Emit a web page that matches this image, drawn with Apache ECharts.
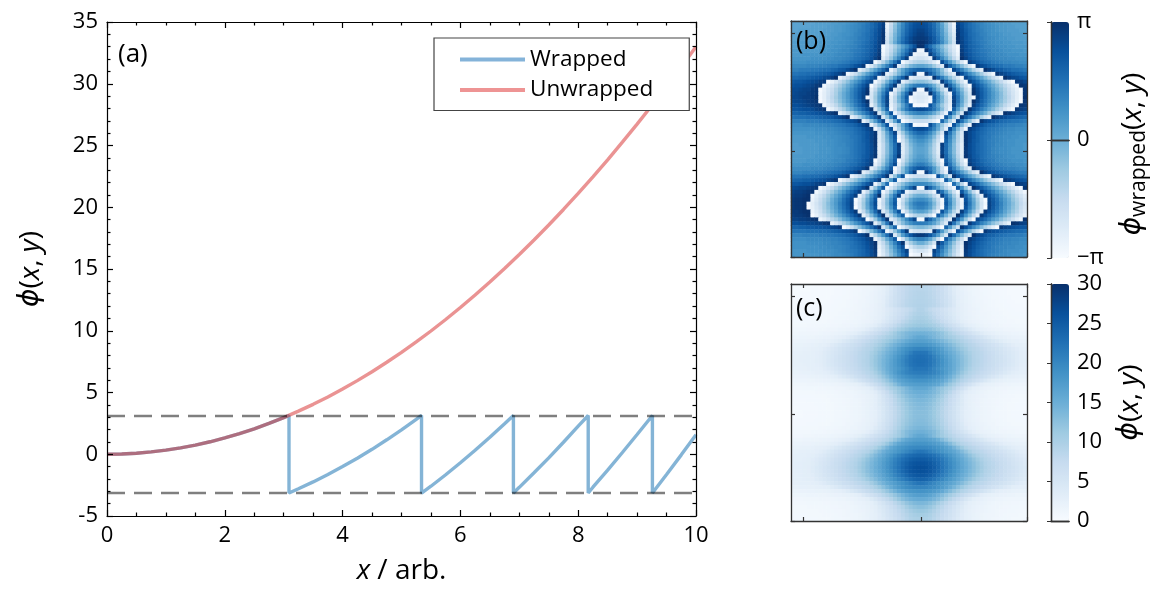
<!DOCTYPE html>
<html><head><meta charset="utf-8">
<script src="https://cdn.jsdelivr.net/npm/echarts@6/dist/echarts.min.js"></script>
<style>html,body{margin:0;padding:0;background:#fff}#c{width:1154px;height:590px}</style>
</head><body><div id="c"></div>
<script>
const FONT = 'Open Sans';
// ---- panel (a): 1D profile ----
const unwrappedX = [0,0.25,0.5,0.75,1,1.25,1.5,1.75,2,2.25,2.5,2.75,3,3.25,3.5,3.75,4,4.25,4.5,4.75,5,5.25,5.5,5.75,6,6.25,6.5,6.75,7,7.25,7.5,7.75,8,8.25,8.5,8.75,9,9.25,9.5,9.75,10];
const unwrappedY = [0,0.02,0.08,0.19,0.33,0.52,0.74,1.01,1.32,1.67,2.06,2.5,2.97,3.49,4.04,4.64,5.28,5.96,6.68,7.45,8.25,9.1,9.98,10.91,11.88,12.89,13.94,15.04,16.17,17.35,18.56,19.82,21.12,22.46,23.84,25.27,26.73,28.24,29.78,31.37,33.0];
const wrappedX = [0,0.25,0.5,0.75,1,1.25,1.5,1.75,2,2.25,2.5,2.75,3,3.09,3.09,3.25,3.5,3.75,4,4.25,4.5,4.75,5,5.25,5.34,5.34,5.5,5.75,6,6.25,6.5,6.75,6.9,6.9,7,7.25,7.5,7.75,8,8.17,8.17,8.25,8.5,8.75,9,9.26,9.26,9.5,9.75,10];
const wrappedY = [0,0.02,0.08,0.19,0.33,0.52,0.74,1.01,1.32,1.67,2.06,2.5,2.97,3.14,-3.14,-2.79,-2.24,-1.64,-1.0,-0.32,0.4,1.17,1.97,2.82,3.14,-3.14,-2.59,-1.66,-0.69,0.32,1.37,2.47,3.14,-3.14,-2.68,-1.5,-0.29,0.97,2.27,3.14,-3.14,-2.67,-1.29,0.14,1.6,3.14,-3.14,-1.64,-0.05,1.58];
const dashedLevels = [3.14, -3.14];
const seriesNames = ['Wrapped', 'Unwrapped'];

// ---- panels (b), (c): 60 x 60 cell maps, x and y from -1.1 to 0.9 ----
// Both maps are mirror-symmetric about x = 0, so each row is read at |x| = halfX and used on both sides.
const gridX60 = [-1.083,-1.05,-1.017,-0.983,-0.95,-0.917,-0.883,-0.85,-0.817,-0.783,-0.75,-0.717,-0.683,-0.65,-0.617,-0.583,-0.55,-0.517,-0.483,-0.45,-0.417,-0.383,-0.35,-0.317,-0.283,-0.25,-0.217,-0.183,-0.15,-0.117,-0.083,-0.05,-0.017,0.017,0.05,0.083,0.117,0.15,0.183,0.217,0.25,0.283,0.317,0.35,0.383,0.417,0.45,0.483,0.517,0.55,0.583,0.617,0.65,0.683,0.717,0.75,0.783,0.817,0.85,0.883];
const gridY60 = [-1.083,-1.05,-1.017,-0.983,-0.95,-0.917,-0.883,-0.85,-0.817,-0.783,-0.75,-0.717,-0.683,-0.65,-0.617,-0.583,-0.55,-0.517,-0.483,-0.45,-0.417,-0.383,-0.35,-0.317,-0.283,-0.25,-0.217,-0.183,-0.15,-0.117,-0.083,-0.05,-0.017,0.017,0.05,0.083,0.117,0.15,0.183,0.217,0.25,0.283,0.317,0.35,0.383,0.417,0.45,0.483,0.517,0.55,0.583,0.617,0.65,0.683,0.717,0.75,0.783,0.817,0.85,0.883];
const halfX = [0.017,0.05,0.083,0.117,0.15,0.183,0.217,0.25,0.283,0.317,0.35,0.383,0.417,0.45,0.483,0.517,0.55,0.583,0.617,0.65,0.683,0.717,0.75,0.783,0.817,0.85,0.883,0.917,0.95,0.983,1.017,1.05,1.083];
const mapTickCoords = [-1, 0];

// panel (b): wrapped phase
const wrappedHalfRows = [
[2.4,2.3,2.0,1.6,1.0,0.2,-0.7,-1.7,-2.9,2.7,2.3,2.0,1.7,1.4,1.2,1.1,0.9,0.8,0.7,0.6,0.6,0.5,0.5,0.4,0.4,0.4,0.4,0.3,0.3,0.3,0.3,0.3,0.3],
[2.5,2.4,2.1,1.7,1.1,0.4,-0.5,-1.5,-2.7,2.8,2.4,2.0,1.7,1.5,1.3,1.1,1.0,0.9,0.8,0.7,0.6,0.6,0.5,0.5,0.4,0.4,0.4,0.4,0.3,0.3,0.3,0.3,0.3],
[2.7,2.5,2.2,1.8,1.2,0.5,-0.4,-1.4,-2.5,2.9,2.5,2.1,1.8,1.5,1.3,1.2,1.0,0.9,0.8,0.7,0.6,0.6,0.5,0.5,0.5,0.4,0.4,0.4,0.4,0.4,0.4,0.3,0.3],
[2.8,2.6,2.3,1.9,1.3,0.6,-0.2,-1.2,-2.3,3.0,2.5,2.2,1.8,1.6,1.4,1.2,1.1,0.9,0.8,0.8,0.7,0.6,0.6,0.5,0.5,0.5,0.4,0.4,0.4,0.4,0.4,0.4,0.4],
[2.9,2.8,2.5,2.1,1.5,0.8,-0.1,-1.0,-2.1,3.0,2.6,2.2,1.9,1.6,1.4,1.3,1.1,1.0,0.9,0.8,0.7,0.7,0.6,0.6,0.5,0.5,0.5,0.5,0.5,0.4,0.4,0.4,0.4],
[3.1,2.9,2.6,2.2,1.7,1.0,0.1,-0.8,-1.9,3.1,2.7,2.3,2.0,1.7,1.5,1.3,1.2,1.0,0.9,0.8,0.8,0.7,0.7,0.6,0.6,0.6,0.5,0.5,0.5,0.5,0.5,0.5,0.5],
[3.1,2.4,1.7,1.0,0.4,-0.3,-1.0,-1.7,-2.4,-3.1,2.7,2.4,2.0,1.8,1.6,1.4,1.2,1.1,1.0,0.9,0.8,0.8,0.7,0.7,0.6,0.6,0.6,0.6,0.5,0.5,0.5,0.5,0.5],
[-2.9,3.0,2.3,1.5,0.8,0.0,-0.7,-1.5,-2.2,-3.0,2.8,2.4,2.1,1.8,1.6,1.4,1.3,1.2,1.0,1.0,0.9,0.8,0.8,0.7,0.7,0.7,0.6,0.6,0.6,0.6,0.6,0.6,0.6],
[-2.5,-2.8,2.8,2.0,1.2,0.4,-0.4,-1.2,-2.0,-2.8,2.9,2.5,2.2,1.9,1.7,1.5,1.4,1.2,1.1,1.0,1.0,0.9,0.8,0.8,0.8,0.7,0.7,0.7,0.7,0.7,0.6,0.6,0.6],
[-1.9,-2.2,-2.7,2.8,2.0,1.1,0.2,-0.7,-1.5,-2.4,3.1,2.7,2.3,2.0,1.8,1.6,1.5,1.3,1.2,1.1,1.0,1.0,0.9,0.9,0.8,0.8,0.8,0.8,0.7,0.7,0.7,0.7,0.7],
[-1.1,-1.3,-1.7,-2.3,-3.0,2.4,1.5,0.6,-0.3,-1.2,-2.1,-3.0,2.8,2.5,2.2,1.9,1.7,1.6,1.4,1.3,1.2,1.1,1.1,1.0,1.0,0.9,0.9,0.9,0.9,0.8,0.8,0.8,0.8],
[0.3,0.1,-0.2,-0.8,-1.5,-2.4,2.9,2.0,1.2,0.4,-0.4,-1.2,-2.1,-2.9,2.9,2.5,2.3,2.0,1.8,1.7,1.6,1.4,1.4,1.3,1.2,1.2,1.1,1.1,1.1,1.0,1.0,1.0,1.0],
[2.0,1.8,1.5,1.0,0.3,-0.5,-1.6,-2.8,2.6,1.9,1.2,0.4,-0.3,-1.1,-1.8,-2.5,3.1,2.8,2.5,2.2,2.1,1.9,1.8,1.6,1.6,1.5,1.4,1.4,1.3,1.3,1.3,1.2,1.2],
[-2.9,2.9,2.1,1.4,0.6,-0.2,-1.0,-1.8,-2.5,3.0,2.4,1.7,1.0,0.4,-0.3,-0.9,-1.6,-2.2,-2.9,3.0,2.7,2.5,2.3,2.1,2.0,1.9,1.8,1.7,1.7,1.6,1.6,1.5,1.5],
[-1.9,-2.1,-2.6,3.0,2.1,1.3,0.4,-0.5,-1.3,-2.2,-3.0,2.6,2.0,1.5,0.9,0.3,-0.3,-0.9,-1.5,-2.1,-2.7,3.1,2.8,2.6,2.5,2.3,2.2,2.1,2.0,1.9,1.9,1.8,1.8],
[-0.5,-0.7,-1.1,-1.7,-2.5,2.8,1.8,0.9,-0.1,-1.1,-2.0,-2.9,2.7,2.2,1.7,1.1,0.6,0.1,-0.5,-1.0,-1.5,-2.1,-2.6,-3.1,2.9,2.8,2.6,2.5,2.4,2.3,2.2,2.2,2.1],
[1.4,1.2,0.7,0.0,-0.9,-2.0,2.9,2.0,1.0,-0.1,-1.1,-2.0,-3.1,2.7,2.2,1.7,1.2,0.6,0.1,-0.4,-0.9,-1.4,-1.9,-2.4,-2.9,3.0,2.9,2.7,2.6,2.5,2.4,2.4,2.3],
[-3.0,3.0,1.9,0.8,-0.3,-1.3,-2.4,2.8,1.8,0.7,-0.3,-1.4,-2.4,3.0,2.5,2.0,1.5,1.0,0.4,-0.1,-0.6,-1.1,-1.6,-2.1,-2.6,-3.1,3.0,2.9,2.7,2.7,2.6,2.5,2.5],
[-2.4,-2.7,3.0,1.8,0.7,-0.5,-1.7,-2.9,2.3,1.2,0.1,-1.0,-2.1,3.1,2.6,2.1,1.6,1.1,0.6,0.1,-0.4,-1.0,-1.5,-2.0,-2.5,-3.0,3.0,2.9,2.8,2.7,2.7,2.6,2.5],
[-2.2,-2.4,-3.0,2.2,1.0,-0.1,-1.3,-2.5,2.6,1.5,0.3,-0.8,-2.0,-3.1,2.7,2.1,1.6,1.1,0.6,0.1,-0.4,-0.9,-1.4,-1.9,-2.5,-3.0,3.1,2.9,2.8,2.8,2.7,2.6,2.6],
[-2.3,-2.6,-3.1,2.0,0.9,-0.2,-1.3,-2.4,2.7,1.5,0.3,-0.9,-2.1,3.1,2.6,2.0,1.5,1.0,0.5,0.0,-0.5,-1.0,-1.5,-2.0,-2.6,-3.1,3.0,2.9,2.8,2.7,2.6,2.6,2.5],
[-3.0,-3.1,2.3,1.3,0.3,-0.7,-1.6,-2.6,2.6,1.2,0.0,-1.3,-2.6,2.8,2.3,1.8,1.3,0.7,0.2,-0.3,-0.8,-1.4,-1.9,-2.4,-2.9,3.0,2.9,2.8,2.7,2.6,2.5,2.4,2.4],
[2.5,2.3,2.0,1.4,0.6,-0.4,-1.6,-2.9,2.0,0.6,-0.8,-2.2,3.0,2.4,1.9,1.3,0.8,0.2,-0.3,-0.9,-1.4,-2.0,-2.5,-3.0,3.0,2.8,2.7,2.5,2.4,2.4,2.3,2.2,2.2],
[1.2,1.0,0.7,0.1,-0.6,-1.5,-2.7,2.3,0.8,-0.6,-2.1,3.0,2.4,1.7,1.1,0.5,-0.1,-0.8,-1.4,-2.0,-2.6,3.1,2.9,2.7,2.5,2.4,2.3,2.2,2.1,2.0,2.0,1.9,1.9],
[-0.3,-0.4,-0.8,-1.3,-2.0,-2.8,2.2,0.8,-0.7,-2.1,2.9,2.1,1.4,0.6,-0.2,-1.0,-1.8,-2.5,3.1,2.8,2.6,2.4,2.2,2.1,2.0,1.9,1.8,1.7,1.7,1.6,1.6,1.6,1.5],
[-1.6,-1.7,-2.0,-2.5,-3.1,1.8,0.3,-1.1,-2.4,2.6,1.6,0.5,-0.5,-1.6,-2.6,3.0,2.6,2.4,2.2,2.0,1.8,1.7,1.6,1.5,1.5,1.4,1.3,1.3,1.3,1.2,1.2,1.2,1.2],
[-2.9,-3.1,2.4,1.4,0.3,-0.7,-1.8,-2.8,2.3,1.0,-0.2,-1.4,-2.7,2.9,2.6,2.3,2.0,1.8,1.7,1.5,1.4,1.3,1.2,1.2,1.1,1.1,1.0,1.0,1.0,1.0,0.9,0.9,0.9],
[2.5,2.3,1.8,1.1,0.1,-1.1,-2.5,2.4,1.1,-0.3,-1.6,-2.9,2.8,2.5,2.2,1.9,1.7,1.5,1.4,1.3,1.2,1.1,1.0,1.0,0.9,0.9,0.9,0.8,0.8,0.8,0.8,0.8,0.8],
[1.8,1.5,1.0,0.2,-0.8,-2.1,2.7,1.5,0.3,-1.0,-2.2,3.0,2.6,2.3,2.0,1.8,1.6,1.4,1.3,1.2,1.1,1.0,0.9,0.9,0.8,0.8,0.8,0.7,0.7,0.7,0.7,0.7,0.7],
[1.2,0.9,0.4,-0.4,-1.5,-2.8,2.2,1.1,0.0,-1.2,-2.3,3.0,2.6,2.3,2.0,1.7,1.5,1.4,1.2,1.1,1.0,0.9,0.9,0.8,0.8,0.7,0.7,0.7,0.7,0.6,0.6,0.6,0.6],
[0.8,0.5,0.0,-0.9,-1.9,-3.1,2.0,0.9,-0.2,-1.3,-2.3,3.0,2.6,2.2,2.0,1.7,1.5,1.3,1.2,1.1,1.0,0.9,0.8,0.8,0.7,0.7,0.7,0.6,0.6,0.6,0.6,0.6,0.6],
[0.5,0.2,-0.3,-1.2,-2.3,2.8,1.7,0.7,-0.4,-1.5,-2.5,3.0,2.5,2.2,1.9,1.7,1.5,1.3,1.2,1.0,1.0,0.9,0.8,0.8,0.7,0.7,0.6,0.6,0.6,0.6,0.6,0.5,0.5],
[0.3,0.1,-0.5,-1.3,-2.4,2.7,1.7,0.6,-0.4,-1.5,-2.5,2.9,2.5,2.2,1.9,1.7,1.5,1.3,1.1,1.0,0.9,0.9,0.8,0.7,0.7,0.7,0.6,0.6,0.6,0.6,0.5,0.5,0.5],
[0.3,0.1,-0.5,-1.3,-2.4,2.7,1.7,0.6,-0.4,-1.5,-2.5,2.9,2.5,2.2,1.9,1.7,1.5,1.3,1.1,1.0,0.9,0.9,0.8,0.7,0.7,0.7,0.6,0.6,0.6,0.6,0.5,0.5,0.5],
[0.5,0.2,-0.3,-1.1,-2.1,3.0,1.9,0.8,-0.2,-1.3,-2.4,3.0,2.6,2.2,2.0,1.7,1.5,1.3,1.2,1.1,1.0,0.9,0.8,0.8,0.7,0.7,0.7,0.6,0.6,0.6,0.6,0.6,0.6],
[0.7,0.5,-0.1,-0.8,-1.8,-3.1,2.1,1.1,0.1,-1.0,-2.0,-3.1,2.7,2.4,2.1,1.8,1.6,1.4,1.3,1.1,1.0,1.0,0.9,0.8,0.8,0.8,0.7,0.7,0.7,0.6,0.6,0.6,0.6],
[1.3,1.0,0.5,-0.3,-1.3,-2.6,2.5,1.5,0.5,-0.6,-1.6,-2.6,2.9,2.5,2.2,2.0,1.7,1.6,1.4,1.3,1.2,1.1,1.0,1.0,0.9,0.9,0.8,0.8,0.8,0.8,0.7,0.7,0.7],
[2.2,1.9,1.4,0.6,-0.5,-1.9,-3.1,2.1,1.2,0.2,-0.7,-1.6,-2.5,3.0,2.6,2.3,2.1,1.9,1.7,1.5,1.4,1.3,1.2,1.2,1.1,1.0,1.0,1.0,0.9,0.9,0.9,0.9,0.9],
[-3.0,2.8,1.8,0.7,-0.4,-1.5,-2.6,2.8,2.0,1.3,0.5,-0.2,-1.0,-1.8,-2.5,3.1,2.7,2.4,2.2,2.0,1.8,1.7,1.6,1.5,1.4,1.3,1.3,1.2,1.2,1.2,1.1,1.1,1.1],
[-1.7,-1.9,-2.3,-2.9,2.3,0.8,-0.6,-2.1,3.0,2.3,1.7,1.1,0.4,-0.2,-0.9,-1.5,-2.2,-2.8,3.0,2.7,2.5,2.3,2.1,2.0,1.9,1.8,1.7,1.7,1.6,1.6,1.5,1.5,1.5],
[-0.4,-0.5,-0.9,-1.4,-2.0,-2.8,2.1,0.6,-1.0,-2.5,2.8,2.2,1.7,1.1,0.5,0.0,-0.6,-1.2,-1.7,-2.3,-2.9,3.0,2.8,2.6,2.4,2.3,2.2,2.1,2.0,2.0,1.9,1.9,1.8],
[1.0,0.9,0.6,0.1,-0.5,-1.2,-2.1,-3.1,1.7,0.1,-1.3,-2.8,2.7,2.2,1.7,1.1,0.6,0.1,-0.4,-0.9,-1.5,-2.0,-2.5,-3.0,3.0,2.8,2.7,2.5,2.4,2.4,2.3,2.2,2.2],
[-3.1,2.7,1.9,1.1,0.3,-0.5,-1.3,-2.1,-2.9,2.2,0.8,-0.6,-2.0,3.1,2.6,2.1,1.6,1.1,0.5,0.0,-0.5,-1.0,-1.5,-2.0,-2.5,-3.0,3.0,2.9,2.8,2.7,2.7,2.6,2.5],
[-1.3,-1.5,-2.0,-2.7,2.6,1.6,0.4,-0.7,-1.8,-2.9,2.2,1.0,-0.3,-1.5,-2.7,2.8,2.3,1.8,1.3,0.7,0.2,-0.3,-0.8,-1.3,-1.9,-2.4,-2.9,3.1,3.0,2.9,2.8,2.8,2.7],
[0.0,-0.2,-0.7,-1.5,-2.4,2.7,1.5,0.3,-0.9,-2.1,3.1,1.9,0.8,-0.4,-1.5,-2.7,2.8,2.3,1.8,1.3,0.7,0.2,-0.3,-0.8,-1.4,-1.9,-2.4,-2.9,3.1,3.0,2.9,2.9,2.8],
[0.9,0.7,0.2,-0.7,-1.7,-3.0,2.0,0.8,-0.4,-1.6,-2.9,2.3,1.2,0.1,-1.0,-2.1,-3.1,2.6,2.1,1.6,1.0,0.5,0.0,-0.6,-1.1,-1.6,-2.2,-2.7,3.1,3.1,3.0,3.0,2.9],
[1.4,1.2,0.6,-0.3,-1.4,-2.8,2.2,1.0,-0.3,-1.5,-2.7,2.5,1.4,0.3,-0.8,-1.9,-2.9,2.7,2.2,1.7,1.2,0.6,0.1,-0.4,-1.0,-1.5,-2.0,-2.5,-3.1,3.1,3.0,3.0,2.9],
[1.2,0.9,0.4,-0.6,-1.7,-3.1,1.9,0.7,-0.5,-1.7,-2.9,2.3,1.2,0.2,-0.9,-2.0,-3.1,2.7,2.1,1.6,1.1,0.5,0.0,-0.5,-1.0,-1.6,-2.1,-2.6,-3.1,3.1,3.0,3.0,2.9],
[0.4,0.1,-0.5,-1.5,-2.7,2.3,1.2,0.0,-1.2,-2.3,2.8,1.8,0.7,-0.4,-1.5,-2.6,2.9,2.4,1.9,1.4,0.9,0.3,-0.2,-0.7,-1.2,-1.8,-2.3,-2.8,3.1,3.1,3.0,2.9,2.9],
[-1.0,-1.3,-2.0,-3.1,2.1,1.1,0.0,-1.1,-2.1,3.1,2.0,0.8,-0.3,-1.4,-2.6,2.9,2.4,1.9,1.4,0.9,0.4,-0.1,-0.6,-1.1,-1.6,-2.1,-2.6,-3.1,3.1,3.0,2.9,2.9,2.8],
[-3.1,2.6,1.8,1.0,0.1,-0.7,-1.6,-2.4,3.0,1.8,0.6,-0.7,-1.9,-3.1,2.6,2.1,1.7,1.2,0.6,0.2,-0.4,-0.9,-1.3,-1.8,-2.4,-2.8,3.1,3.0,2.9,2.8,2.8,2.7,2.7],
[1.3,1.2,0.8,0.3,-0.4,-1.3,-2.3,2.8,1.5,0.1,-1.2,-2.5,2.9,2.3,1.8,1.2,0.7,0.1,-0.5,-1.0,-1.5,-2.1,-2.6,3.1,3.0,2.8,2.7,2.6,2.6,2.5,2.5,2.4,2.4],
[-0.3,-0.5,-0.8,-1.4,-2.2,-3.1,1.9,0.6,-0.7,-2.0,3.0,2.4,1.7,1.0,0.3,-0.4,-1.1,-1.8,-2.5,-3.1,2.9,2.7,2.6,2.4,2.3,2.2,2.2,2.1,2.1,2.0,2.0,1.9,1.9],
[-1.8,-2.0,-2.5,2.9,1.8,0.6,-0.6,-1.8,-2.9,2.4,1.5,0.6,-0.3,-1.2,-2.1,-3.1,2.9,2.6,2.4,2.3,2.1,2.0,1.9,1.8,1.7,1.7,1.6,1.6,1.6,1.5,1.5,1.5,1.5],
[2.9,2.7,2.2,1.4,0.5,-0.8,-2.2,2.7,1.7,0.7,-0.3,-1.3,-2.3,3.1,2.7,2.5,2.2,2.0,1.9,1.7,1.6,1.5,1.4,1.4,1.3,1.3,1.2,1.2,1.2,1.2,1.1,1.1,1.1],
[1.2,0.9,0.3,-0.6,-1.8,-3.1,2.1,1.1,0.2,-0.8,-1.7,-2.7,2.9,2.6,2.3,2.1,1.9,1.7,1.5,1.4,1.3,1.2,1.2,1.1,1.1,1.0,1.0,1.0,1.0,0.9,0.9,0.9,0.9],
[0.0,-0.4,-1.0,-2.0,3.0,2.1,1.2,0.3,-0.6,-1.5,-2.3,3.1,2.7,2.4,2.1,1.9,1.7,1.5,1.4,1.3,1.2,1.1,1.1,1.0,1.0,0.9,0.9,0.9,0.9,0.8,0.8,0.8,0.8],
[-1.1,-1.4,-2.1,-3.0,2.4,1.6,0.7,-0.1,-1.0,-1.8,-2.6,3.0,2.6,2.3,2.0,1.8,1.6,1.5,1.3,1.2,1.1,1.1,1.0,1.0,0.9,0.9,0.8,0.8,0.8,0.8,0.8,0.8,0.8],
[-2.0,-2.3,-2.8,2.7,2.0,1.2,0.4,-0.4,-1.2,-2.0,-2.8,2.9,2.5,2.2,1.9,1.7,1.5,1.4,1.3,1.2,1.1,1.0,0.9,0.9,0.9,0.8,0.8,0.8,0.8,0.7,0.7,0.7,0.7],
[-2.7,-2.8,-3.1,2.4,1.7,0.9,0.1,-0.6,-1.4,-2.2,-2.9,2.8,2.5,2.1,1.9,1.7,1.5,1.3,1.2,1.1,1.0,1.0,0.9,0.8,0.8,0.8,0.7,0.7,0.7,0.7,0.7,0.7,0.7]
];

// panel (c): unwrapped phase
const phiHalfRows = [
[8.7,8.6,8.3,7.9,7.3,6.5,5.6,4.6,3.4,2.7,2.3,2.0,1.7,1.4,1.2,1.1,0.9,0.8,0.7,0.6,0.6,0.5,0.5,0.4,0.4,0.4,0.4,0.3,0.3,0.3,0.3,0.3,0.3],
[8.8,8.7,8.4,8.0,7.4,6.7,5.8,4.8,3.6,2.8,2.4,2.0,1.7,1.5,1.3,1.1,1.0,0.9,0.8,0.7,0.6,0.6,0.5,0.5,0.4,0.4,0.4,0.4,0.3,0.3,0.3,0.3,0.3],
[9.0,8.8,8.5,8.1,7.5,6.8,5.9,4.9,3.8,2.9,2.5,2.1,1.8,1.5,1.3,1.2,1.0,0.9,0.8,0.7,0.6,0.6,0.5,0.5,0.5,0.4,0.4,0.4,0.4,0.4,0.4,0.3,0.3],
[9.1,8.9,8.6,8.2,7.6,6.9,6.1,5.1,4.0,3.0,2.5,2.2,1.8,1.6,1.4,1.2,1.1,0.9,0.8,0.8,0.7,0.6,0.6,0.5,0.5,0.5,0.4,0.4,0.4,0.4,0.4,0.4,0.4],
[9.2,9.1,8.8,8.4,7.8,7.1,6.2,5.3,4.2,3.0,2.6,2.2,1.9,1.6,1.4,1.3,1.1,1.0,0.9,0.8,0.7,0.7,0.6,0.6,0.5,0.5,0.5,0.5,0.5,0.4,0.4,0.4,0.4],
[9.4,9.2,8.9,8.5,8.0,7.3,6.4,5.5,4.4,3.1,2.7,2.3,2.0,1.7,1.5,1.3,1.2,1.0,0.9,0.8,0.8,0.7,0.7,0.6,0.6,0.6,0.5,0.5,0.5,0.5,0.5,0.5,0.5],
[9.4,8.7,8.0,7.3,6.7,6.0,5.3,4.6,3.9,3.2,2.7,2.4,2.0,1.8,1.6,1.4,1.2,1.1,1.0,0.9,0.8,0.8,0.7,0.7,0.6,0.6,0.6,0.6,0.5,0.5,0.5,0.5,0.5],
[9.7,9.3,8.6,7.8,7.1,6.3,5.6,4.8,4.1,3.3,2.8,2.4,2.1,1.8,1.6,1.4,1.3,1.2,1.0,1.0,0.9,0.8,0.8,0.7,0.7,0.7,0.6,0.6,0.6,0.6,0.6,0.6,0.6],
[10.1,9.8,9.1,8.3,7.5,6.7,5.9,5.1,4.3,3.5,2.9,2.5,2.2,1.9,1.7,1.5,1.4,1.2,1.1,1.0,1.0,0.9,0.8,0.8,0.8,0.7,0.7,0.7,0.7,0.7,0.6,0.6,0.6],
[10.7,10.4,9.9,9.1,8.3,7.4,6.5,5.6,4.8,3.9,3.1,2.7,2.3,2.0,1.8,1.6,1.5,1.3,1.2,1.1,1.0,1.0,0.9,0.9,0.8,0.8,0.8,0.8,0.7,0.7,0.7,0.7,0.7],
[11.5,11.3,10.9,10.3,9.6,8.7,7.8,6.9,6.0,5.1,4.2,3.3,2.8,2.5,2.2,1.9,1.7,1.6,1.4,1.3,1.2,1.1,1.1,1.0,1.0,0.9,0.9,0.9,0.9,0.8,0.8,0.8,0.8],
[12.9,12.7,12.4,11.8,11.1,10.2,9.2,8.3,7.5,6.7,5.9,5.1,4.2,3.4,2.9,2.5,2.3,2.0,1.8,1.7,1.6,1.4,1.4,1.3,1.2,1.2,1.1,1.1,1.1,1.0,1.0,1.0,1.0],
[14.6,14.4,14.1,13.6,12.9,12.1,11.0,9.8,8.9,8.2,7.5,6.7,6.0,5.2,4.5,3.8,3.1,2.8,2.5,2.2,2.1,1.9,1.8,1.6,1.6,1.5,1.4,1.4,1.3,1.3,1.3,1.2,1.2],
[16.0,15.5,14.7,14.0,13.2,12.4,11.6,10.8,10.1,9.3,8.7,8.0,7.3,6.7,6.0,5.4,4.7,4.1,3.4,3.0,2.7,2.5,2.3,2.1,2.0,1.9,1.8,1.7,1.7,1.6,1.6,1.5,1.5],
[17.0,16.8,16.3,15.6,14.7,13.9,13.0,12.1,11.3,10.4,9.6,8.9,8.3,7.8,7.2,6.6,6.0,5.4,4.8,4.2,3.6,3.1,2.8,2.6,2.5,2.3,2.2,2.1,2.0,1.9,1.9,1.8,1.8],
[18.4,18.2,17.8,17.2,16.4,15.4,14.4,13.5,12.5,11.5,10.6,9.7,9.0,8.5,8.0,7.4,6.9,6.4,5.8,5.3,4.8,4.2,3.7,3.2,2.9,2.8,2.6,2.5,2.4,2.3,2.2,2.2,2.1],
[20.3,20.1,19.6,18.9,18.0,16.9,15.5,14.6,13.6,12.5,11.5,10.6,9.5,9.0,8.5,8.0,7.5,6.9,6.4,5.9,5.4,4.9,4.4,3.9,3.4,3.0,2.9,2.7,2.6,2.5,2.4,2.4,2.3],
[22.1,21.9,20.8,19.7,18.6,17.6,16.5,15.4,14.4,13.3,12.3,11.2,10.2,9.3,8.8,8.3,7.8,7.3,6.7,6.2,5.7,5.2,4.7,4.2,3.7,3.2,3.0,2.9,2.7,2.7,2.6,2.5,2.5],
[22.7,22.4,21.9,20.7,19.6,18.4,17.2,16.0,14.9,13.8,12.7,11.6,10.5,9.4,8.9,8.4,7.9,7.4,6.9,6.4,5.9,5.3,4.8,4.3,3.8,3.3,3.0,2.9,2.8,2.7,2.7,2.6,2.5],
[22.9,22.7,22.1,21.1,19.9,18.8,17.6,16.4,15.2,14.1,12.9,11.8,10.6,9.5,9.0,8.4,7.9,7.4,6.9,6.4,5.9,5.4,4.9,4.4,3.8,3.3,3.1,2.9,2.8,2.8,2.7,2.6,2.6],
[22.8,22.5,22.0,20.9,19.8,18.7,17.6,16.5,15.3,14.1,12.9,11.7,10.5,9.4,8.9,8.3,7.8,7.3,6.8,6.3,5.8,5.3,4.8,4.3,3.7,3.2,3.0,2.9,2.8,2.7,2.6,2.6,2.5],
[22.1,22.0,21.2,20.2,19.2,18.2,17.3,16.3,15.2,13.8,12.6,11.3,10.0,9.1,8.6,8.1,7.6,7.0,6.5,6.0,5.5,4.9,4.4,3.9,3.4,3.0,2.9,2.8,2.7,2.6,2.5,2.4,2.4],
[21.4,21.2,20.9,20.3,19.5,18.5,17.3,16.0,14.6,13.2,11.8,10.4,9.3,8.7,8.2,7.6,7.1,6.5,6.0,5.4,4.9,4.3,3.8,3.3,3.0,2.8,2.7,2.5,2.4,2.4,2.3,2.2,2.2],
[20.1,19.9,19.6,19.0,18.3,17.4,16.2,14.9,13.4,12.0,10.5,9.3,8.7,8.0,7.4,6.8,6.2,5.5,4.9,4.3,3.7,3.1,2.9,2.7,2.5,2.4,2.3,2.2,2.1,2.0,2.0,1.9,1.9],
[18.6,18.5,18.1,17.6,16.9,16.1,14.8,13.4,11.9,10.5,9.2,8.4,7.7,6.9,6.1,5.3,4.5,3.8,3.1,2.8,2.6,2.4,2.2,2.1,2.0,1.9,1.8,1.7,1.7,1.6,1.6,1.6,1.5],
[17.3,17.2,16.9,16.4,15.8,14.4,12.9,11.5,10.2,8.9,7.9,6.8,5.8,4.7,3.7,3.0,2.6,2.4,2.2,2.0,1.8,1.7,1.6,1.5,1.5,1.4,1.3,1.3,1.3,1.2,1.2,1.2,1.2],
[16.0,15.8,15.0,14.0,12.9,11.9,10.8,9.8,8.6,7.3,6.1,4.9,3.6,2.9,2.6,2.3,2.0,1.8,1.7,1.5,1.4,1.3,1.2,1.2,1.1,1.1,1.0,1.0,1.0,1.0,0.9,0.9,0.9],
[15.1,14.9,14.4,13.7,12.7,11.5,10.1,8.7,7.4,6.0,4.7,3.4,2.8,2.5,2.2,1.9,1.7,1.5,1.4,1.3,1.2,1.1,1.0,1.0,0.9,0.9,0.9,0.8,0.8,0.8,0.8,0.8,0.8],
[14.4,14.1,13.6,12.8,11.8,10.5,9.0,7.8,6.6,5.3,4.1,3.0,2.6,2.3,2.0,1.8,1.6,1.4,1.3,1.2,1.1,1.0,0.9,0.9,0.8,0.8,0.8,0.7,0.7,0.7,0.7,0.7,0.7],
[13.8,13.5,13.0,12.2,11.1,9.8,8.5,7.4,6.3,5.1,4.0,3.0,2.6,2.3,2.0,1.7,1.5,1.4,1.2,1.1,1.0,0.9,0.9,0.8,0.8,0.7,0.7,0.7,0.7,0.6,0.6,0.6,0.6],
[13.4,13.1,12.6,11.7,10.7,9.5,8.3,7.2,6.1,5.0,4.0,3.0,2.6,2.2,2.0,1.7,1.5,1.3,1.2,1.1,1.0,0.9,0.8,0.8,0.7,0.7,0.7,0.6,0.6,0.6,0.6,0.6,0.6],
[13.1,12.8,12.3,11.4,10.3,9.1,8.0,7.0,5.9,4.8,3.8,3.0,2.5,2.2,1.9,1.7,1.5,1.3,1.2,1.0,1.0,0.9,0.8,0.8,0.7,0.7,0.6,0.6,0.6,0.6,0.6,0.5,0.5],
[12.9,12.7,12.1,11.3,10.2,9.0,8.0,6.9,5.9,4.8,3.8,2.9,2.5,2.2,1.9,1.7,1.5,1.3,1.1,1.0,0.9,0.9,0.8,0.7,0.7,0.7,0.6,0.6,0.6,0.6,0.5,0.5,0.5],
[12.9,12.7,12.1,11.3,10.2,9.0,8.0,6.9,5.9,4.8,3.8,2.9,2.5,2.2,1.9,1.7,1.5,1.3,1.1,1.0,0.9,0.9,0.8,0.7,0.7,0.7,0.6,0.6,0.6,0.6,0.5,0.5,0.5],
[13.1,12.8,12.3,11.5,10.5,9.3,8.2,7.1,6.1,5.0,3.9,3.0,2.6,2.2,2.0,1.7,1.5,1.3,1.2,1.1,1.0,0.9,0.8,0.8,0.7,0.7,0.7,0.6,0.6,0.6,0.6,0.6,0.6],
[13.3,13.1,12.5,11.8,10.8,9.5,8.4,7.4,6.4,5.3,4.3,3.2,2.7,2.4,2.1,1.8,1.6,1.4,1.3,1.1,1.0,1.0,0.9,0.8,0.8,0.8,0.7,0.7,0.7,0.6,0.6,0.6,0.6],
[13.9,13.6,13.1,12.3,11.3,10.0,8.8,7.8,6.8,5.7,4.7,3.7,2.9,2.5,2.2,2.0,1.7,1.6,1.4,1.3,1.2,1.1,1.0,1.0,0.9,0.9,0.8,0.8,0.8,0.8,0.7,0.7,0.7],
[14.8,14.5,14.0,13.2,12.1,10.7,9.5,8.4,7.5,6.5,5.6,4.7,3.8,3.0,2.6,2.3,2.1,1.9,1.7,1.5,1.4,1.3,1.2,1.2,1.1,1.0,1.0,1.0,0.9,0.9,0.9,0.9,0.9],
[15.9,15.4,14.4,13.3,12.2,11.1,10.0,9.1,8.3,7.6,6.8,6.1,5.3,4.5,3.8,3.1,2.7,2.4,2.2,2.0,1.8,1.7,1.6,1.5,1.4,1.3,1.3,1.2,1.2,1.2,1.1,1.1,1.1],
[17.2,17.0,16.6,16.0,14.9,13.4,12.0,10.5,9.3,8.6,8.0,7.4,6.7,6.1,5.4,4.8,4.1,3.5,3.0,2.7,2.5,2.3,2.1,2.0,1.9,1.8,1.7,1.7,1.6,1.6,1.5,1.5,1.5],
[18.5,18.4,18.0,17.5,16.9,16.1,14.7,13.2,11.6,10.1,9.1,8.5,8.0,7.4,6.8,6.3,5.7,5.1,4.6,4.0,3.4,3.0,2.8,2.6,2.4,2.3,2.2,2.1,2.0,2.0,1.9,1.9,1.8],
[19.9,19.8,19.5,19.0,18.4,17.7,16.8,15.8,14.3,12.7,11.3,9.8,9.0,8.5,8.0,7.4,6.9,6.4,5.9,5.4,4.8,4.3,3.8,3.3,3.0,2.8,2.7,2.5,2.4,2.4,2.3,2.2,2.2],
[22.0,21.6,20.8,20.0,19.2,18.4,17.6,16.8,16.0,14.8,13.4,12.0,10.6,9.4,8.9,8.4,7.9,7.4,6.8,6.3,5.8,5.3,4.8,4.3,3.8,3.3,3.0,2.9,2.8,2.7,2.7,2.6,2.5],
[23.8,23.6,23.1,22.4,21.5,20.5,19.3,18.2,17.1,16.0,14.8,13.6,12.3,11.1,9.9,9.1,8.6,8.1,7.6,7.0,6.5,6.0,5.5,5.0,4.4,3.9,3.4,3.1,3.0,2.9,2.8,2.8,2.7],
[25.1,24.9,24.4,23.6,22.7,21.6,20.4,19.2,18.0,16.8,15.7,14.5,13.4,12.2,11.1,9.9,9.1,8.6,8.1,7.6,7.0,6.5,6.0,5.5,4.9,4.4,3.9,3.4,3.1,3.0,2.9,2.9,2.8],
[26.0,25.8,25.3,24.4,23.4,22.1,20.9,19.7,18.5,17.3,16.0,14.9,13.8,12.7,11.6,10.5,9.5,8.9,8.4,7.9,7.3,6.8,6.3,5.7,5.2,4.7,4.1,3.6,3.1,3.1,3.0,3.0,2.9],
[26.5,26.3,25.7,24.8,23.7,22.3,21.1,19.9,18.6,17.4,16.2,15.1,14.0,12.9,11.8,10.7,9.7,9.0,8.5,8.0,7.5,6.9,6.4,5.9,5.3,4.8,4.3,3.8,3.2,3.1,3.0,3.0,2.9],
[26.3,26.0,25.5,24.5,23.4,22.0,20.8,19.6,18.4,17.2,16.0,14.9,13.8,12.8,11.7,10.6,9.5,9.0,8.4,7.9,7.4,6.8,6.3,5.8,5.3,4.7,4.2,3.7,3.2,3.1,3.0,3.0,2.9],
[25.5,25.2,24.6,23.6,22.4,21.2,20.1,18.9,17.7,16.6,15.4,14.4,13.3,12.2,11.1,10.0,9.2,8.7,8.2,7.7,7.2,6.6,6.1,5.6,5.1,4.5,4.0,3.5,3.1,3.1,3.0,2.9,2.9],
[24.1,23.8,23.1,22.0,21.0,20.0,18.9,17.8,16.8,15.7,14.6,13.4,12.3,11.2,10.0,9.2,8.7,8.2,7.7,7.2,6.7,6.2,5.7,5.2,4.7,4.2,3.7,3.2,3.1,3.0,2.9,2.9,2.8],
[22.0,21.5,20.7,19.9,19.0,18.2,17.3,16.5,15.6,14.4,13.2,11.9,10.7,9.5,8.9,8.4,8.0,7.5,6.9,6.5,5.9,5.4,5.0,4.5,3.9,3.5,3.1,3.0,2.9,2.8,2.8,2.7,2.7],
[20.2,20.1,19.7,19.2,18.5,17.6,16.6,15.4,14.1,12.7,11.4,10.1,9.2,8.6,8.1,7.5,7.0,6.4,5.8,5.3,4.8,4.2,3.7,3.1,3.0,2.8,2.7,2.6,2.6,2.5,2.5,2.4,2.4],
[18.6,18.4,18.1,17.5,16.7,15.8,14.5,13.2,11.9,10.6,9.3,8.7,8.0,7.3,6.6,5.9,5.2,4.5,3.8,3.2,2.9,2.7,2.6,2.4,2.3,2.2,2.2,2.1,2.1,2.0,2.0,1.9,1.9],
[17.1,16.9,16.4,15.5,14.4,13.2,12.0,10.8,9.7,8.7,7.8,6.9,6.0,5.1,4.2,3.2,2.9,2.6,2.4,2.3,2.1,2.0,1.9,1.8,1.7,1.7,1.6,1.6,1.6,1.5,1.5,1.5,1.5],
[15.5,15.3,14.8,14.0,13.1,11.8,10.4,9.0,8.0,7.0,6.0,5.0,4.0,3.1,2.7,2.5,2.2,2.0,1.9,1.7,1.6,1.5,1.4,1.4,1.3,1.3,1.2,1.2,1.2,1.2,1.1,1.1,1.1],
[13.8,13.5,12.9,12.0,10.8,9.5,8.4,7.4,6.5,5.5,4.6,3.6,2.9,2.6,2.3,2.1,1.9,1.7,1.5,1.4,1.3,1.2,1.2,1.1,1.1,1.0,1.0,1.0,1.0,0.9,0.9,0.9,0.9],
[12.6,12.2,11.6,10.6,9.3,8.4,7.5,6.6,5.7,4.8,4.0,3.1,2.7,2.4,2.1,1.9,1.7,1.5,1.4,1.3,1.2,1.1,1.1,1.0,1.0,0.9,0.9,0.9,0.9,0.8,0.8,0.8,0.8],
[11.5,11.2,10.5,9.6,8.7,7.9,7.0,6.2,5.3,4.5,3.7,3.0,2.6,2.3,2.0,1.8,1.6,1.5,1.3,1.2,1.1,1.1,1.0,1.0,0.9,0.9,0.8,0.8,0.8,0.8,0.8,0.8,0.8],
[10.6,10.3,9.8,9.0,8.3,7.5,6.7,5.9,5.1,4.3,3.5,2.9,2.5,2.2,1.9,1.7,1.5,1.4,1.3,1.2,1.1,1.0,0.9,0.9,0.9,0.8,0.8,0.8,0.8,0.7,0.7,0.7,0.7],
[9.9,9.8,9.5,8.7,8.0,7.2,6.4,5.7,4.9,4.1,3.4,2.8,2.5,2.1,1.9,1.7,1.5,1.3,1.2,1.1,1.0,1.0,0.9,0.8,0.8,0.8,0.7,0.7,0.7,0.7,0.7,0.7,0.7]
];
const cbWrappedLabels = {'-1': '−π', '0': '0', '1': 'π'};
const cbPhiRange = [0, 30];
const blues = ['#f7fbff','#deebf7','#c6dbef','#9ecae1','#6baed6','#4292c6','#2171b5','#08519c','#08306b'];

function buildCells(halfRows) {
  const cells = [];
  gridY60.forEach((gy, yi) => {
    const h = halfRows[yi];
    gridX60.forEach((gx, xi) => {
      const j = halfX.findIndex(a => Math.abs(a - Math.abs(gx)) < 0.005);
      cells.push([xi, yi, h[j]]);
    });
  });
  return cells;
}
const cellsWrapped = buildCells(wrappedHalfRows);
const cellsPhi = buildCells(phiHalfRows);

const FRAME = '#333';
const NAME_SIZE = 28;
const richName = {
  p: {fontSize: NAME_SIZE, fontFamily: 'DejaVu Sans', fontStyle: 'italic', color: '#000'},
  b: {fontSize: NAME_SIZE, fontFamily: FONT, color: '#000'},
  i: {fontSize: NAME_SIZE, fontFamily: FONT, color: '#000', fontStyle: 'italic'},
  s: {fontSize: 21, fontFamily: FONT, color: '#000', verticalAlign: 'bottom', padding: [13, 0, 0, 0]}
};

function mapAxes(gi, cats) {
  const half = (cats[1] - cats[0]) / 2;
  const tickFn = (i, v) => mapTickCoords.some(t => Math.abs(Number(v) - half - t) < 0.005);
  const base = () => ({
    type: 'category', gridIndex: gi, z: 10, data: cats,
    axisLine: {show: true, lineStyle: {color: FRAME, width: 1.3}},
    axisTick: {show: true, inside: true, length: 4, alignWithLabel: false, interval: tickFn, lineStyle: {color: FRAME, width: 1.2}},
    axisLabel: {show: false}, splitLine: {show: false}
  });
  return {
    x: [Object.assign(base(), {position: 'bottom'}), Object.assign(base(), {position: 'top'})],
    y: [Object.assign(base(), {data: gridY60, position: 'left', inverse: true}), Object.assign(base(), {data: gridY60, position: 'right', inverse: true})]
  };
}
const mb = mapAxes(1, gridX60), mc = mapAxes(2, gridX60);

function cbAxes(gi, min, max, interval, fmt, name, pad) {
  const line = {show: true, lineStyle: {color: FRAME, width: 1.3}};
  const xa = pos => ({type: 'value', gridIndex: gi, min: 0, max: 1, position: pos, z: 10, axisLine: line, axisTick: {show: false}, axisLabel: {show: false}, splitLine: {show: false}});
  return {
    x: [xa('bottom'), xa('top')],
    y: [
      {type: 'value', gridIndex: gi, min, max, interval, position: 'left', z: 10, axisLine: line, axisTick: {show: false}, axisLabel: {show: false}, splitLine: {show: false}},
      {type: 'value', gridIndex: gi, min, max, interval, position: 'right', z: 10, axisLine: line,
       axisTick: {show: true, inside: true, length: 4, lineStyle: {color: FRAME}},
       axisLabel: {show: true, margin: 8, fontSize: 22, fontFamily: FONT, color: '#000', formatter: fmt},
       splitLine: {show: false},
       name, nameLocation: 'middle', nameRotate: 90, nameGap: 47,
       nameTextStyle: {fontSize: NAME_SIZE, fontFamily: FONT, color: '#000', rich: richName, padding: pad}}
    ]
  };
}
const cbB = cbAxes(3, -Math.PI, Math.PI, Math.PI, v => cbWrappedLabels[String(Math.round(v / Math.PI))], '{p|ϕ}{s|wrapped}{b|(}{i|x}{b|, }{i|y}{b|)}', [0, 28, 0, 0]);
const cbC = cbAxes(4, cbPhiRange[0], cbPhiRange[1], 5, v => String(v), '{p|ϕ}{b|(}{i|x}{b|, }{i|y}{b|)}', 0);

const tickStyle = {color: '#000', width: 1.2};
const mainX = (pos, labels) => ({
  type: 'value', gridIndex: 0, min: 0, max: 10, interval: 2, position: pos, z: 3,
  axisLine: {show: true, onZero: false, lineStyle: {color: '#000', width: 1.2}},
  axisTick: {show: true, inside: true, length: 6, lineStyle: tickStyle},
  minorTick: {show: true, splitNumber: 4, length: 3.5, lineStyle: tickStyle},
  axisLabel: {show: labels, fontSize: 22, fontFamily: FONT, color: '#000', margin: 9},
  splitLine: {show: false}, minorSplitLine: {show: false},
  name: labels ? '{i|x}{b| / arb.}' : '', nameLocation: 'middle', nameGap: 41,
  nameTextStyle: {fontSize: NAME_SIZE, fontFamily: FONT, color: '#000', rich: richName}
});
const mainY = (pos, labels) => ({
  type: 'value', gridIndex: 0, min: -5, max: 35, interval: 5, position: pos, z: 3,
  axisLine: {show: true, onZero: false, lineStyle: {color: '#000', width: 1.2}},
  axisTick: {show: true, inside: true, length: 6, lineStyle: tickStyle},
  minorTick: {show: true, splitNumber: 5, length: 3.5, lineStyle: tickStyle},
  axisLabel: {show: labels, fontSize: 22, fontFamily: FONT, color: '#000', margin: 9},
  splitLine: {show: false}, minorSplitLine: {show: false},
  name: labels ? '{p|ϕ}{b|(}{i|x}{b|, }{i|y}{b|)}' : '', nameLocation: 'middle', nameGap: 62, nameRotate: 90,
  nameTextStyle: {fontSize: NAME_SIZE, fontFamily: FONT, color: '#000', rich: richName}
});

const BLUE = 'rgba(31,119,180,0.55)', RED = 'rgba(214,39,40,0.5)';
const option = {
  animation: false,
  backgroundColor: '#fff',
  textStyle: {fontFamily: FONT},
  grid: [
    {left: 107, top: 22, width: 589, height: 498},
    {left: 791, top: 21, width: 236, height: 236},
    {left: 791, top: 284, width: 236, height: 237},
    {left: 1051, top: 22, width: 18, height: 236},
    {left: 1051, top: 284, width: 18, height: 237}
  ],
  xAxis: [mainX('bottom', true), mainX('top', false), ...mb.x, ...mc.x, ...cbB.x, ...cbC.x],
  yAxis: [mainY('left', true), mainY('right', false), ...mb.y, ...mc.y, ...cbB.y, ...cbC.y],
  legend: {
    orient: 'vertical', left: 434, top: 38, icon: 'rect', itemWidth: 65, itemHeight: 4, itemGap: 7.5, itemTextGap: 10,
    padding: [10, 36, 9, 26], borderColor: '#444', borderWidth: 1.2, borderRadius: 0, backgroundColor: '#fff',
    textStyle: {fontSize: 22.5, fontFamily: FONT, color: '#000'},
    data: [{name: seriesNames[0], itemStyle: {color: '#84b3d9'}}, {name: seriesNames[1], itemStyle: {color: '#ee9494'}}]
  },
  visualMap: [
    {type: 'continuous', seriesIndex: 2, min: -Math.PI, max: Math.PI, inRange: {color: blues}, calculable: false,
     left: 1051, top: 22, itemWidth: 18, itemHeight: 236, padding: 0, text: null, hoverLink: false},
    {type: 'continuous', seriesIndex: 3, min: cbPhiRange[0], max: cbPhiRange[1], inRange: {color: blues}, calculable: false,
     left: 1051, top: 284, itemWidth: 18, itemHeight: 237, padding: 0, text: null, hoverLink: false}
  ],
  graphic: [
    {type: 'text', x: 118, y: 55, style: {text: '(a)', fontSize: 26, fontFamily: FONT, fill: '#000', verticalAlign: 'middle'}},
    {type: 'text', x: 796, y: 42, style: {text: '(b)', fontSize: 25, fontFamily: FONT, fill: '#000', verticalAlign: 'middle'}, z: 20},
    {type: 'text', x: 796, y: 309, style: {text: '(c)', fontSize: 25, fontFamily: FONT, fill: '#000', verticalAlign: 'middle'}, z: 20}
  ],
  series: [
    {name: seriesNames[0], type: 'line', xAxisIndex: 0, yAxisIndex: 0, showSymbol: false, symbol: 'none',
     data: wrappedX.map((x, i) => [x, wrappedY[i]]), lineStyle: {color: BLUE, width: 3.4}, itemStyle: {color: BLUE}, z: 2},
    {name: seriesNames[1], type: 'line', xAxisIndex: 0, yAxisIndex: 0, showSymbol: false, symbol: 'none',
     data: unwrappedX.map((x, i) => [x, unwrappedY[i]]), lineStyle: {color: RED, width: 3.4}, itemStyle: {color: RED}, z: 2,
     markLine: {silent: true, symbol: ['none', 'none'], label: {show: false},
       lineStyle: {type: [18, 9], color: 'rgba(0,0,0,0.5)', width: 2.4},
       data: dashedLevels.map(v => ({yAxis: v}))}},
    {type: 'heatmap', xAxisIndex: 2, yAxisIndex: 2, data: cellsWrapped, progressive: 0, emphasis: {disabled: true}},
    {type: 'heatmap', xAxisIndex: 4, yAxisIndex: 4, data: cellsPhi, progressive: 0, emphasis: {disabled: true}}
  ]
};
const chart = echarts.init(document.getElementById('c'), null, {renderer: 'canvas'});
chart.setOption(option);
</script></body></html>
